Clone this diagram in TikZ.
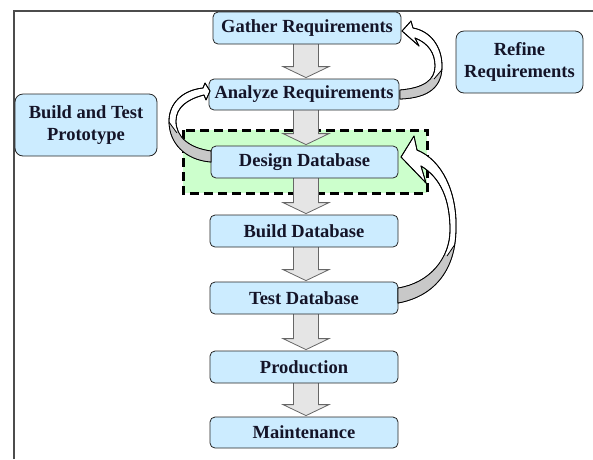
\documentclass[tikz,border=0pt]{standalone}
\usepackage{fontspec}
\setmainfont{Liberation Serif}
\usetikzlibrary{calc}
\definecolor{boxblue}{RGB}{204,236,255}
\definecolor{lgreen}{RGB}{204,255,204}
\definecolor{txt}{RGB}{20,20,40}
\definecolor{bandgray}{RGB}{200,200,200}
\pgfdeclarelayer{zonelayer}
\pgfdeclarelayer{bg}
\pgfsetlayers{zonelayer,bg,main}
\begin{document}
\begin{tikzpicture}[x=1pt,y=-1pt,
  stepbox/.style={draw=black!85, line width=0.8pt, fill=boxblue, rounded corners=5pt,
    minimum width=188pt, minimum height=32pt, inner sep=0pt,
    font=\fontsize{18.5}{22}\selectfont\bfseries, text=txt},
  sidebox/.style={stepbox, rounded corners=8pt, align=center, minimum height=62pt},
  blockarr/.style={fill=black!10, draw=black!60, line width=0.8pt},
  curvearr/.style={fill=white, draw=black, line width=0.8pt, line join=round},
  bandline/.style={draw=black, line width=0.8pt, line join=round},
  framec/.style={draw=black!70, line width=1.2pt},
  zone/.style={fill=lgreen, draw=black, line width=3pt, dash pattern=on 9pt off 5pt}]
\useasboundingbox (0,0) rectangle (593,459);
\draw[framec] (14,459) -- (14,11) -- (593,11);

% steps
\node[stepbox] (gat) at (307,28) {Gather Requirements};
\node[stepbox, minimum width=190pt, minimum height=31pt] (ana) at (304,94.5) {Analyze Requirements};
\node[stepbox, minimum width=187pt] (des) at (304.5,162) {Design Database};
\node[stepbox] (bld) at (304,231) {Build Database};
\node[stepbox] (tst) at (304,298) {Test Database};
\node[stepbox] (prd) at (304,367) {Production};
\node[stepbox, minimum height=31pt] (mnt) at (304,432.5) {Maintenance};

\node[sidebox, minimum width=142pt] (btp) at (86,125) {Build and Test\\Prototype};
\node[sidebox, minimum width=127pt] (ref) at (519.5,62) {Refine\\Requirements};

\begin{pgfonlayer}{zonelayer}
  \path[zone] (183,130) rectangle (427,193);
\end{pgfonlayer}

\coordinate (ax) at (306,0);
\begin{pgfonlayer}{bg}
  \foreach \a/\b in {gat/ana, ana/des, des/bld, bld/tst, tst/prd, prd/mnt}{
    \draw[blockarr] ($(ax |- \a.south)+(-12.5,-2)$) -- ($(ax |- \b.north)+(-12.5,-12)$)
      -- ($(ax |- \b.north)+(-23,-12)$) -- ($(ax |- \b.north)+(0,-1)$)
      -- ($(ax |- \b.north)+(23,-12)$) -- ($(ax |- \b.north)+(12.5,-12)$)
      -- ($(ax |- \a.south)+(12.5,-2)$) -- cycle;
  }
\end{pgfonlayer}

% Refine: Analyze -> Gather
\coordinate (r1a) at (400,90); \coordinate (r1b) at (400,99);
\def\bandA{(r1a) .. controls (424,88) and (435,80) .. (435,66)
  .. controls (435,53) and (428,43) .. (415,38) -- (419,46) -- (402,31) -- (411,21) -- (413,28)
  .. controls (430,31) and (442,46) .. (442,66) .. controls (442,86) and (430,98) .. (r1b) -- cycle}
\path[curvearr] \bandA;
\begin{scope}
  \clip \bandA;
  \fill[bandgray] (380,120) -- (380,72) -- (426,72) -- (434,79) -- (446,65) -- (460,65) -- (460,120) -- cycle;
  \draw[bandline] (434,79) -- (446,65);
\end{scope}
\path[bandline] \bandA;

% Prototype: Design -> Analyze
\coordinate (l1a) at (211,151); \coordinate (l1b) at (211,162);
\def\bandB{(l1a) .. controls (189,148) and (176,137) .. (176,121)
  .. controls (176,107) and (188,99) .. (204,95) -- (206,100) -- (210,91) -- (205,83) -- (203,88)
  .. controls (183,90) and (169,103) .. (169,121) .. controls (169,143) and (185,160) .. (l1b) -- cycle}
\path[curvearr] \bandB;
\begin{scope}
  \clip \bandB;
  \fill[bandgray] (230,190) -- (230,125) -- (186,125) -- (177,133) -- (166,118) -- (150,118) -- (150,190) -- cycle;
  \draw[bandline] (177,133) -- (166,118);
\end{scope}
\path[bandline] \bandB;

% Test -> Design
\coordinate (r2a) at (398,288); \coordinate (r2b) at (398,303);
\def\bandC{(r2a) .. controls (430,283) and (450,258) .. (450,230)
  .. controls (450,200) and (441,178) .. (421,166) -- (426,183) -- (401,157) -- (414,136) -- (417,150)
  .. controls (442,160) and (457,192) .. (456,228) .. controls (456,268) and (436,296) .. (r2b) -- cycle}
\path[curvearr] \bandC;
\begin{scope}
  \clip \bandC;
  \fill[bandgray] (380,320) -- (380,240) -- (438,240) -- (447,256) -- (462,234) -- (475,234) -- (475,320) -- cycle;
  \draw[bandline] (447,256) -- (462,234);
\end{scope}
\path[bandline] \bandC;
\end{tikzpicture}
\end{document}
